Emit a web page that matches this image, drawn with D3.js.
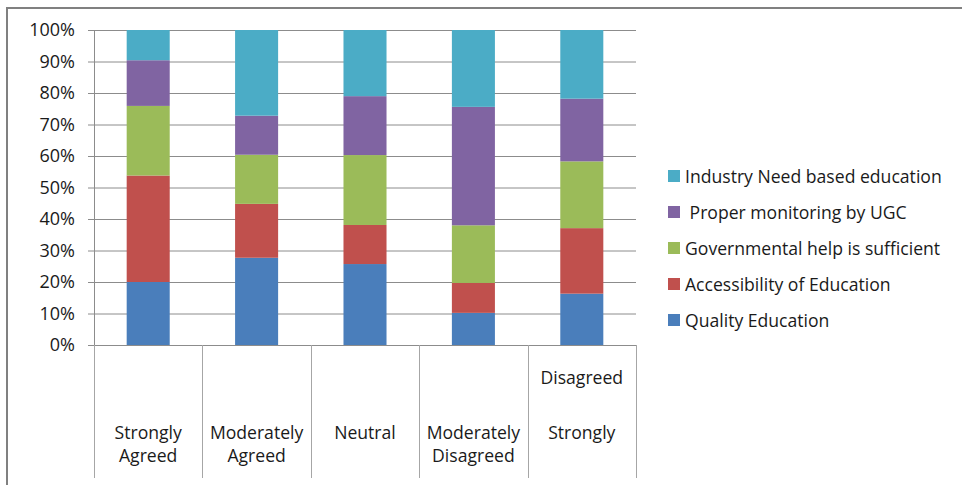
<!DOCTYPE html>
<html>
<head>
<meta charset="utf-8">
<script src="https://cdn.jsdelivr.net/npm/d3@7/dist/d3.min.js"></script>
<style>
  html, body { margin: 0; padding: 0; background: #fff; }
  svg { display: block; }
  text { font-family: "Open Sans", "Noto Sans", sans-serif; fill: #1a1a1a; }
</style>
</head>
<body>
<svg id="chart" width="962" height="485"></svg>
<script>
// ---- data ----
const categories = ["Strongly Agreed", "Moderately Agreed", "Neutral", "Moderately Disagreed", "Strongly Disagreed"];
const categoryLabelLines = [
  ["Strongly", "Agreed"],
  ["Moderately", "Agreed"],
  ["Neutral"],
  ["Moderately", "Disagreed"],
  ["Disagreed", "Strongly"]
];
const seriesNames = ["Quality Education", "Accessibility of Education", "Governmental help is sufficient", "Proper monitoring by UGC", "Industry Need based education"];
const legendLabels = ["Quality Education", "Accessibility of Education", "Governmental help is sufficient", " Proper monitoring by UGC", "Industry Need based education"];
const qualityEducation   = [20.0, 27.7, 25.7, 10.2, 16.3];
const accessibility      = [33.8, 17.1, 12.4,  9.5, 20.8];
const governmentalHelp   = [22.1, 15.6, 22.2, 18.3, 21.2];
const properMonitoring   = [14.5, 12.4, 18.7, 37.6, 19.9];
const industryNeed       = [ 9.6, 27.2, 21.0, 24.4, 21.8];
const yTicks = [0, 10, 20, 30, 40, 50, 60, 70, 80, 90, 100];
const colors = ["#4A7EBB", "#C0504D", "#9BBB59", "#8064A2", "#4BACC6"];

// ---- build table ----
const seriesValues = [qualityEducation, accessibility, governmentalHelp, properMonitoring, industryNeed];
const table = categories.map((c, i) => {
  const row = { category: c };
  seriesNames.forEach((s, j) => row[s] = seriesValues[j][i]);
  return row;
});
const stacked = d3.stack().keys(seriesNames).offset(d3.stackOffsetExpand)(table);

const svg = d3.select("#chart");
const plot = { left: 94, right: 636, top: 30, bottom: 345, labelBottom: 478 };

const x = d3.scaleBand().domain(categories).range([plot.left, plot.right]).paddingInner(0).paddingOuter(0);
const y = d3.scaleLinear().domain([0, 1]).range([plot.bottom, plot.top]);
const color = d3.scaleOrdinal().domain(seriesNames).range(colors);
const barW = x.bandwidth() * 0.397;

// outer frame
svg.append("path")
  .attr("d", `M7,485 L7,8 L962,8`)
  .attr("fill", "none").attr("stroke", "#808080").attr("stroke-width", 2);

// gridlines + y axis
const yAxis = d3.axisLeft(y)
  .tickValues(yTicks.map(v => v / 100))
  .tickSize(-(plot.right - plot.left))
  .tickSizeOuter(0)
  .tickPadding(19)
  .tickFormat(d => Math.round(d * 100) + "%");
const gy = svg.append("g").attr("transform", `translate(${plot.left},0)`).call(yAxis);
gy.select(".domain").remove();
gy.selectAll(".tick line")
  .attr("x1", -6)
  .attr("stroke", "#8c8c8c").attr("stroke-width", 1);
gy.selectAll(".tick text")
  .attr("font-size", 18).attr("fill", "#1a1a1a")
  .attr("font-family", "'Open Sans', sans-serif");

// vertical axis line
svg.append("line")
  .attr("x1", plot.left + 0.5).attr("x2", plot.left + 0.5)
  .attr("y1", plot.top).attr("y2", plot.bottom)
  .attr("stroke", "#8c8c8c");

// category divider lines (tick marks extending below)
const dividers = categories.map(c => x(c)).concat([plot.right]);
svg.append("g").selectAll("line").data(dividers).join("line")
  .attr("x1", d => Math.round(d) + 0.5).attr("x2", d => Math.round(d) + 0.5)
  .attr("y1", plot.bottom).attr("y2", plot.labelBottom)
  .attr("stroke", "#a6a6a6");

// bars
svg.append("g").selectAll("g").data(stacked).join("g")
  .attr("fill", d => color(d.key))
  .selectAll("rect").data(d => d).join("rect")
  .attr("x", d => x(d.data.category) + x.bandwidth() / 2 - barW / 2)
  .attr("width", barW)
  .attr("y", d => y(d[1]))
  .attr("height", d => y(d[0]) - y(d[1]));

// category labels
const lineH = 23;
const labelG = svg.append("g");
categories.forEach((c, i) => {
  const lines = categoryLabelLines[i];
  const cx = x(c) + x.bandwidth() / 2;
  lines.forEach((t, k) => {
    let yy;
    if (i === categories.length - 1) {
      yy = k === 0 ? 377 : 432;
    } else {
      yy = 432 + k * lineH;
    }
    labelG.append("text")
      .attr("x", cx).attr("y", yy)
      .attr("text-anchor", "middle")
      .attr("dominant-baseline", "central")
      .attr("font-size", 17.6)
      .text(t);
  });
});

// legend
const legendOrder = seriesNames.map((s, i) => ({ key: s, label: legendLabels[i] })).reverse();
const lg = svg.append("g");
legendOrder.forEach((d, i) => {
  const cy = 176 + i * 36;
  lg.append("rect")
    .attr("x", 668).attr("y", cy - 6)
    .attr("width", 12).attr("height", 12)
    .attr("fill", color(d.key));
  lg.append("text")
    .attr("x", 685).attr("y", cy)
    .attr("dominant-baseline", "central")
    .attr("font-size", 17.6)
    .style("white-space", "pre")
    .text(d.label);
});
</script>
</body>
</html>
